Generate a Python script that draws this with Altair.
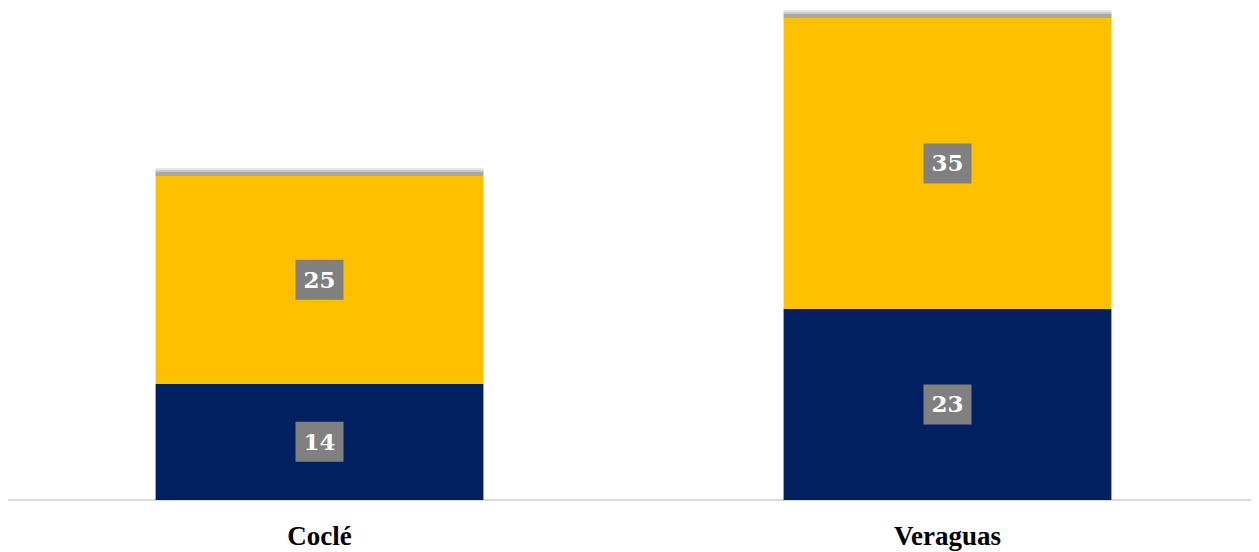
import altair as alt
import pandas as pd

categories = ["Coclé", "Veraguas"]
series = ["Serie 1", "Serie 2"]
bottom_values = [14, 23]
top_values = [25, 35]
colors = ["#002060", "#FFC000"]

rows = []
for i, c in enumerate(categories):
    rows.append({"region": c, "serie": series[0], "orden": 0, "valor": bottom_values[i]})
    rows.append({"region": c, "serie": series[1], "orden": 1, "valor": top_values[i]})
df = pd.DataFrame(rows)

W = 1235
H = 482

base = alt.Chart(df).transform_stack(
    stack="valor", groupby=["region"], as_=["y0", "y1"], sort=[alt.SortField("orden")]
).transform_calculate(mid="(datum.y0 + datum.y1) / 2")

xenc = alt.X(
    "region:N",
    sort=categories,
    title=None,
    scale=alt.Scale(paddingInner=0.478, paddingOuter=0.2223),
    axis=alt.Axis(
        labelAngle=0,
        labelFont="Liberation Serif",
        labelFontWeight="bold",
        labelFontSize=27,
        labelColor="#000000",
        labelBaseline="alphabetic",
        labelPadding=44,
        ticks=False,
        domain=False,
    ),
)
yscale = alt.Scale(domain=[0, 58], nice=False)

baseline = alt.Chart(df).mark_rule(color="#D9D9D9", strokeWidth=1.5).encode(
    x=alt.value(-8), x2=alt.value(W), y=alt.value(H)
)

top = base.transform_filter("datum.orden == 1")
shadows = []
for off, col, op in [(-8, "#cfcfcf", 0.5), (-6, "#b5b5b5", 0.6), (-4, "#9a9a9a", 0.7)]:
    shadows.append(
        top.mark_bar(color=col, opacity=op, y2Offset=off).encode(
            x=xenc, y=alt.Y("y1:Q", scale=yscale, axis=None), y2="y1:Q"
        )
    )

bars = base.mark_bar().encode(
    x=xenc,
    y=alt.Y("y0:Q", scale=yscale, axis=None),
    y2="y1:Q",
    color=alt.Color("serie:N", scale=alt.Scale(domain=series, range=colors), legend=None),
)

boxes = base.mark_point(
    shape="M-1.2,-1H1.2V1H-1.2Z", size=1600, filled=True, color="#808080", opacity=1, strokeWidth=0
).encode(x=xenc, y=alt.Y("mid:Q", scale=yscale, axis=None))

texts = base.mark_text(
    font="DejaVu Serif", fontWeight="bold", fontSize=23, color="white", baseline="middle", dy=1
).encode(x=xenc, y=alt.Y("mid:Q", scale=yscale, axis=None), text="valor:Q")

chart = alt.layer(baseline, *shadows, bars, boxes, texts).properties(
    width=W,
    height=H,
    autosize=alt.AutoSizeParams(type="none"),
    padding={"left": 8, "top": 10, "right": 0, "bottom": 52},
    background="white",
).configure_view(stroke=None)

chart.save("out.html", embed_options={"renderer": "svg", "actions": False})
